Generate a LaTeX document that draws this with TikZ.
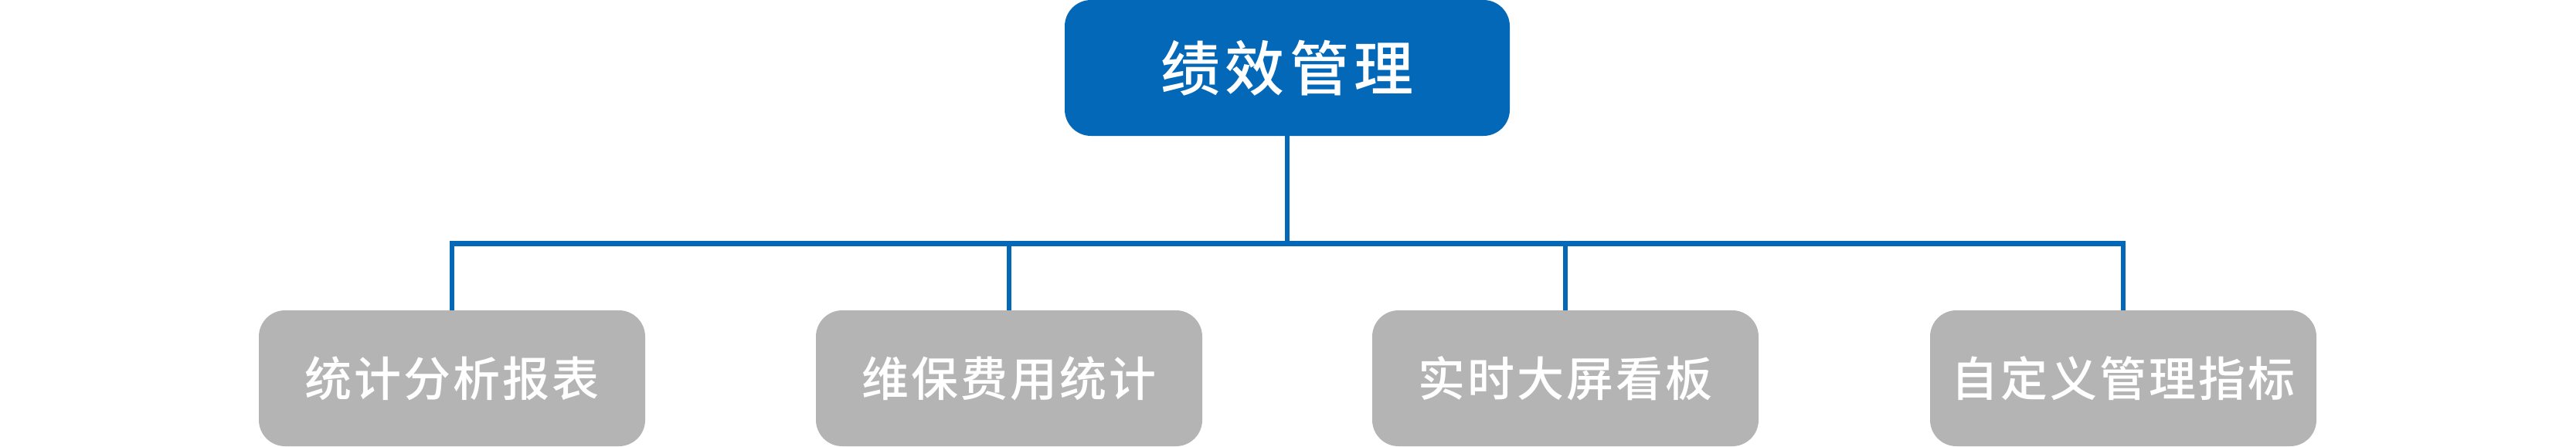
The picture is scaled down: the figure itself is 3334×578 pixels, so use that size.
\documentclass[tikz,border=0pt]{standalone}
\usepackage{fontspec}
\setmainfont{Noto Sans CJK SC}
\newfontfamily\cjktop[LetterSpace=8]{Noto Sans CJK SC Medium}
\newfontfamily\cjkbot[LetterSpace=5]{Noto Sans CJK SC Medium}
\definecolor{topblue}{RGB}{3,104,183}
\definecolor{boxgray}{RGB}{180,180,180}
\begin{document}
\begin{tikzpicture}[x=1pt,y=-1pt,
  topbox/.style={fill=topblue, rounded corners=34pt, minimum width=576pt, minimum height=176pt, inner sep=0pt, text=white, font=\cjktop\fontsize{77}{77}\selectfont},
  leafbox/.style={fill=boxgray, rounded corners=34pt, minimum width=500pt, minimum height=176pt, inner sep=0pt, text=white, font=\cjkbot\fontsize{61}{61}\selectfont},
  conn/.style={draw=topblue, line width=6.5pt, line join=miter}]
\useasboundingbox (0,0) rectangle (3334,578);
\node[topbox] (top) at (1666,88) {绩效管理};
\node[leafbox] (n1) at (585,490) {统计分析报表};
\node[leafbox] (n2) at (1306,490) {维保费用统计};
\node[leafbox] (n3) at (2026,490) {实时大屏看板};
\node[leafbox] (n4) at (2748,490) {自定义管理指标};
\coordinate (bus) at (0,315.5);
\draw[conn] (n1.north) -- (n1.north |- bus) -- (n4.north |- bus) -- (n4.north);
\draw[conn] (top.south) -- (top.south |- bus);
\draw[conn] (n2.north) -- (n2.north |- bus);
\draw[conn] (n3.north) -- (n3.north |- bus);
\end{tikzpicture}
\end{document}
